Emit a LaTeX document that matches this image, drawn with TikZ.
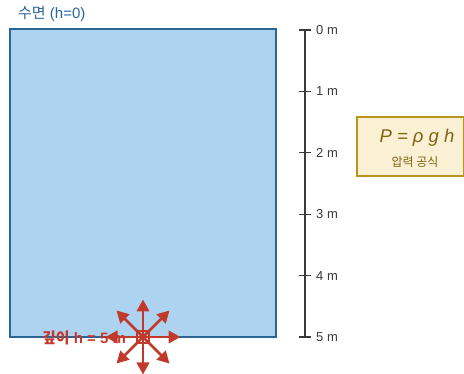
\documentclass[tikz,border=0pt]{standalone}
\usepackage{fontspec}
\setmainfont{Liberation Sans}
\newfontfamily\cjk{Noto Sans CJK KR}
\usetikzlibrary{arrows.meta}
\definecolor{waterfill}{HTML}{AED3F1}
\definecolor{waterline}{HTML}{2A6597}
\definecolor{pred}{HTML}{C0392B}
\definecolor{scalegray}{HTML}{3A3A3A}
\definecolor{boxfill}{HTML}{FBF0D4}
\definecolor{boxline}{HTML}{B8961E}
\definecolor{boxtext}{HTML}{7D6514}
\tikzset{
  parr/.style={draw=pred,line width=2.6pt,-{Triangle[length=12pt,width=12.5pt]}},
  ticklbl/.style={anchor=west,font=\fontsize{13}{15}\selectfont,text=scalegray,inner sep=0pt},
}
\begin{document}
\begin{tikzpicture}[x=1pt,y=-1pt]
\useasboundingbox (0,0) rectangle (464,374);
% water
\draw[fill=waterfill,draw=waterline,line width=2pt] (10,29) rectangle (276,337);
\node[anchor=west,text=waterline,font=\fontsize{15}{17}\selectfont,inner sep=0pt] (title) at (18,14) {{\cjk 수면} (h=0)};
% scale
\coordinate (s0) at (305,30);
\coordinate (s5) at (305,337);
\draw[scalegray,line width=1.3pt] (s0) -- (s5);
\foreach \i/\y in {0/30,1/91.4,2/152.8,3/214.2,4/275.6,5/337}{
  \draw[scalegray,line width=1.3pt] (299,\y) -- (311,\y);
  \node[ticklbl] (t\i) at (316,\y) {\i\ m};
}
% formula box
\node[draw=boxline,fill=boxfill,line width=2pt,minimum width=107pt,minimum height=59pt,inner sep=0pt] (fbox) at (410,146.5) {};
\node[text=boxtext,font=\fontsize{18.5}{20}\selectfont\itshape] (form) at (417,138) {P = ρ g h};
\node[text=boxtext,font=\cjk\fontsize{12}{14}\selectfont] (fname) at (415,162) {압력 공식};
% depth label
\node[text=pred,font=\fontsize{15}{17}\selectfont\bfseries] (dlbl) at (84,337.5) {{\cjk\bfseries 깊이} h = 5 m};
% pressure star
\coordinate (c) at (143,337);
\draw[pred,line width=1.4pt] (137,331) rectangle (149,343);
\foreach \a in {0,45,...,315}{
  \draw[parr] (c) -- ++(\a:37.5);
}
\end{tikzpicture}
\end{document}
